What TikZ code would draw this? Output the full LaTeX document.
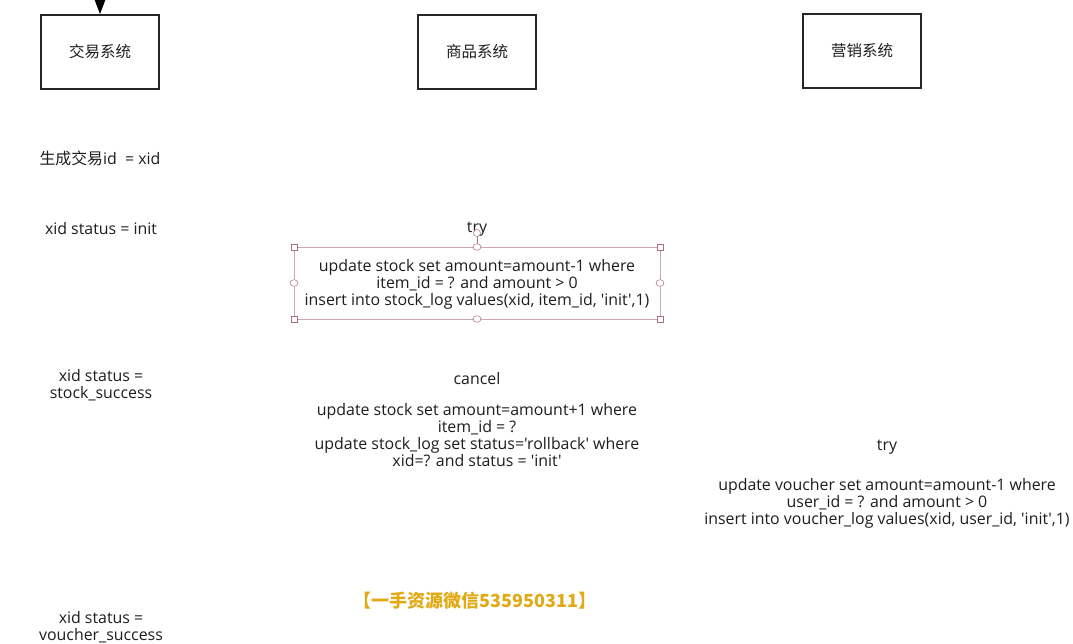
\documentclass[tikz,border=0pt]{standalone}
\usepackage{fontspec}
\setmainfont{Open Sans}[Ligatures=TeXOff]
\newfontfamily\cjk{Noto Sans CJK SC}
\usetikzlibrary{arrows.meta}
\definecolor{txt}{RGB}{30,30,30}
\definecolor{sel}{RGB}{170,110,130}
\definecolor{gold}{RGB}{225,170,20}
\begin{document}
\begin{tikzpicture}[x=1pt,y=-1pt,
  sysbox/.style={draw=black!85,line width=1.8pt,minimum width=118pt,minimum height=74pt,inner sep=0pt,font=\cjk\fontsize{15.5}{18}\selectfont,text=txt},
  lbl/.style={align=center,inner sep=0pt,font=\fontsize{15.9}{17}\selectfont,text=txt},
  handle/.style={draw=sel,fill=white,line width=0.5pt},
]
\useasboundingbox (0,0) rectangle (1073,644);
\fill[white] (0,0) rectangle (1073,644);
% system boxes
\node[sysbox] (trade) at (100,52) {\raisebox{-2pt}{交易系统}};
\node[sysbox] (goods) at (477,52) {\raisebox{-2pt}{商品系统}};
\node[sysbox] (promo) at (862,51) {\raisebox{-2pt}{营销系统}};
\coordinate (entry) at (100,-20);
\draw[line width=1pt,-{Triangle[length=15pt,width=11pt]}] (entry) -- (trade.north);
% left column
\node[lbl] (genid) at (100,158) {{\cjk 生成交易}id\ \ = xid};
\node[lbl] (sinit) at (101,228.5) {xid status = init};
\node[lbl] (sstock) at (101,385) {xid status =\\stock\_success};
\node[lbl] (svoucher) at (101,627) {xid status =\\voucher\_success};
% middle column
\node[lbl] (try1) at (477,229.5) {try};
\node[lbl] (trysql) at (477,284.5) {update stock set amount=amount-1 where\\item\_id = ? and amount > 0\\insert into stock\_log values(xid, item\_id, 'init',1)};
\node[lbl] (cancel) at (477,378.5) {cancel};
\node[lbl] (cancelsql) at (477,435) {update stock set amount=amount+1 where\\item\_id = ?\\update stock\_log set status='rollback' where\\xid=? and status = 'init'};
% right column
\node[lbl] (try2) at (887,447.5) {try};
\node[lbl] (vsql) at (887,503.5) {update voucher set amount=amount-1 where\\user\_id = ? and amount > 0\\insert into voucher\_log values(xid, user\_id, 'init',1)};
% selection frame around the try SQL text
\coordinate (s1) at (294,247);
\coordinate (s2) at (660,319);
\draw[sel!60,line width=0.6pt] (s1) rectangle (s2);
\coordinate (rot) at (477,233);
\draw[sel,line width=0.6pt] (rot) -- (477,247);
\draw[handle] (rot) circle (3.5pt);
\foreach \p in {(294,247),(660,247),(294,319),(660,319)}
  \draw[handle] \p ++(-3.2,-3.2) rectangle ++(6.4,6.4);
\foreach \p in {(477,247),(477,319),(294,283),(660,283)}
  \draw[handle] \p ellipse (4pt and 3.3pt);
% watermark
\node[inner sep=0pt,text=gold,font=\cjk\bfseries\fontsize{18}{20}\selectfont] (wm) at (475,601) {【一手资源微信535950311】};
\end{tikzpicture}
\end{document}
